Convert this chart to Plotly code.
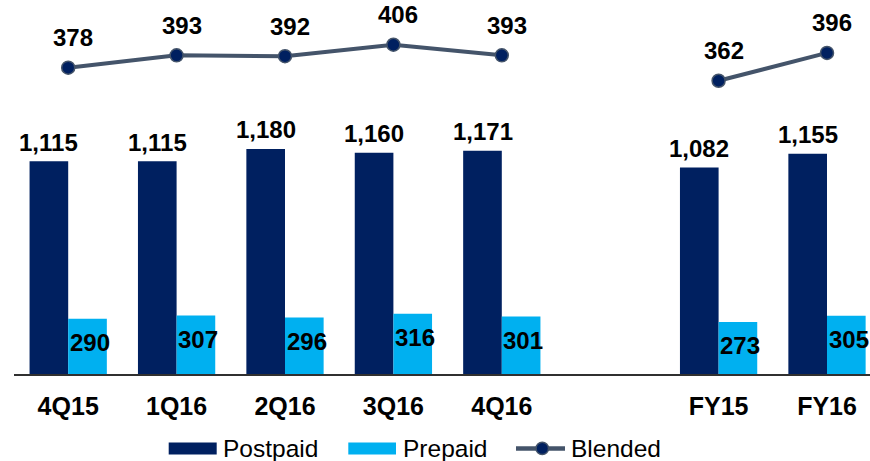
import plotly.graph_objects as go

# ---- data ----
categories = ["4Q15", "1Q16", "2Q16", "3Q16", "4Q16", " ", "FY15", "FY16"]
postpaid = [1115, 1115, 1180, 1160, 1171, None, 1082, 1155]
prepaid = [290, 307, 296, 316, 301, None, 273, 305]
blended = [378, 393, 392, 406, 393, None, 362, 396]
series_names = ["Postpaid", "Prepaid", "Blended"]

# ---- style ----
NAVY = "#002060"
CYAN = "#00B0F0"
SLATE = "#44546A"
FONT = "Liberation Sans, Arial, sans-serif"
W, H = 870, 461
ML, MR, MT, MB = 14, 0, 0, 86.5
PW, PH = W - ML - MR, H - MT - MB


def px_x(px):
    return (px - ML) / PW


def px_y(py):
    return (H - MB - py) / PH


fig = go.Figure()
fig.add_trace(go.Bar(x=categories, y=postpaid, name=series_names[0],
                     marker=dict(color=NAVY, line=dict(width=0)), showlegend=False))
fig.add_trace(go.Bar(x=categories, y=prepaid, name=series_names[1],
                     marker=dict(color=CYAN, line=dict(width=0)), showlegend=False))
fig.add_trace(go.Scatter(x=categories, y=blended, name=series_names[2], yaxis="y2",
                         mode="lines+markers", connectgaps=False,
                         line=dict(color=SLATE, width=4),
                         marker=dict(size=13, color=NAVY, line=dict(color=SLATE, width=1.5)),
                         showlegend=False))

ann = []
bold = dict(family=FONT, size=24, color="black", weight="bold")
for c, v in zip(categories, postpaid):
    if v is None:
        continue
    ann.append(dict(x=c, y=v, xref="x", yref="y", text=f"{v:,}", showarrow=False,
                    xshift=-19.3, yshift=19, yanchor="middle", font=bold))
for c, v in zip(categories, prepaid):
    if v is None:
        continue
    ann.append(dict(x=c, y=v, xref="x", yref="y", text=f"{v:,}", showarrow=False,
                    xshift=21.5, yshift=-24, yanchor="middle", font=bold))
for c, v in zip(categories, blended):
    if v is None:
        continue
    ann.append(dict(x=c, y=v, xref="x", yref="y2", text=f"{v:,}", showarrow=False,
                    xshift=5, yshift=30, yanchor="middle", font=bold))

# ---- custom legend ----
shapes = []
leg_y = 449
shapes.append(dict(type="rect", xref="paper", yref="paper",
                   x0=px_x(168.7), x1=px_x(216.7), y0=px_y(455), y1=px_y(443),
                   fillcolor=NAVY, line=dict(width=0)))
shapes.append(dict(type="rect", xref="paper", yref="paper",
                   x0=px_x(348.3), x1=px_x(396), y0=px_y(455), y1=px_y(443),
                   fillcolor=CYAN, line=dict(width=0)))
shapes.append(dict(type="line", xref="paper", yref="paper",
                   x0=px_x(516), x1=px_x(565), y0=px_y(leg_y), y1=px_y(leg_y),
                   line=dict(color=SLATE, width=4.5)))
shapes.append(dict(type="circle", xref="paper", yref="paper",
                   x0=px_x(536), x1=px_x(548.5), y0=px_y(leg_y - 6.2), y1=px_y(leg_y + 6.2),
                   fillcolor=NAVY, line=dict(color=SLATE, width=1.5)))
leg_font = dict(family=FONT, size=24.5, color="black")
for name, xpx in zip(series_names, [221, 401, 568.5]):
    ann.append(dict(x=px_x(xpx), y=px_y(leg_y), xref="paper", yref="paper", text=name,
                    showarrow=False, xanchor="left", yanchor="middle", font=leg_font))

fig.update_layout(
    width=W, height=H,
    margin=dict(l=ML, r=MR, t=MT, b=MB, pad=0),
    paper_bgcolor="white", plot_bgcolor="white",
    barmode="group", bargap=0.287, bargroupgap=0,
    showlegend=False,
    xaxis=dict(type="category", range=[-0.5, -0.5 + PW / 108.4], showgrid=False,
               showline=True, linecolor="#303030", linewidth=1.5, ticks="",
               tickfont=dict(family=FONT, size=25, color="black", weight="bold"),
               ticklabelstandoff=9, zeroline=False),
    yaxis=dict(range=[0, PH / 0.191], visible=False, showgrid=False, zeroline=False),
    yaxis2=dict(range=[3.9, 460.6], overlaying="y", visible=False, showgrid=False,
                zeroline=False),
    annotations=ann, shapes=shapes,
)

fig.write_html("out.html")
